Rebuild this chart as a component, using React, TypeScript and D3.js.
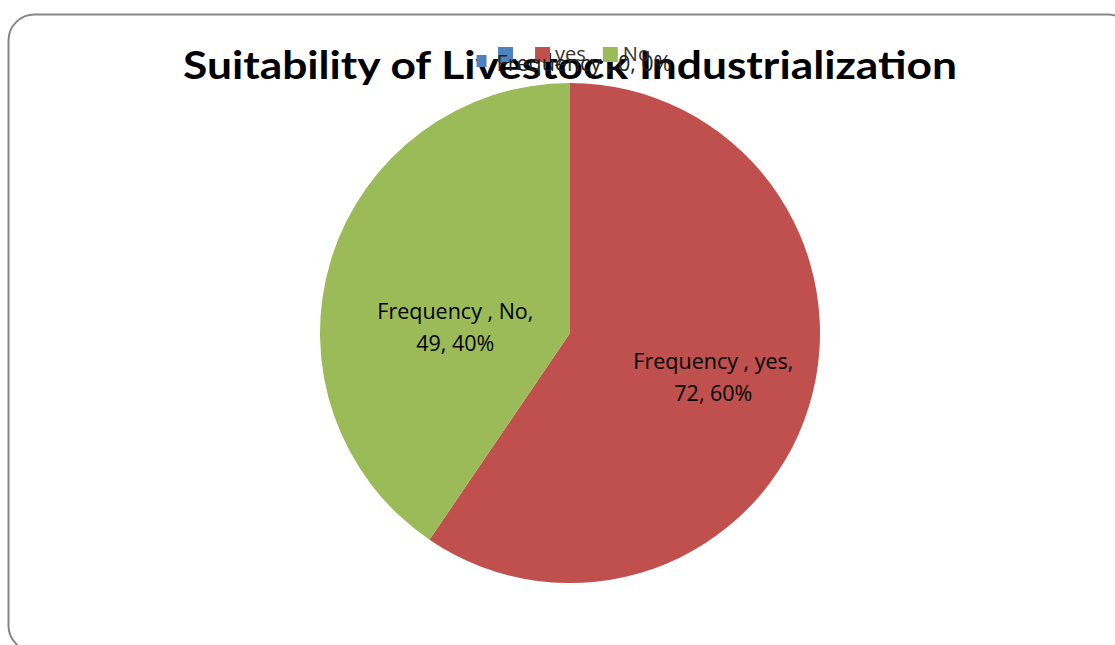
import { useEffect, useRef } from "react";
import * as d3 from "d3";

const title = "Suitability of Livestock Industrialization";
const seriesName = "Frequency ";
const categories = ["Frequency", "yes", "No"];
const legendLabels = ["", "yes", "No"];
const values = [0, 72, 49];
const percentLabels = ["0%", "60%", "40%"];
const colors = ["#4F81BD", "#C0504D", "#9BBB59"];

const W = 1115;
const H = 645;

type Slice = { cat: string; value: number; pct: string; color: string };

const PieChart = () => {
  const svgRef = useRef<SVGSVGElement>(null);

  useEffect(() => {
    if (!svgRef.current) return;
    const svg = d3.select(svgRef.current);
    svg.selectAll("*").remove();

    const titleFont = "Lato, 'Open Sans', sans-serif";
    const font = "'Open Sans', Lato, sans-serif";
    const cx = 570;
    const cy = 333;
    const r = 250;

    // chart frame
    svg
      .append("rect")
      .attr("x", 8.5)
      .attr("y", 14.5)
      .attr("width", 1125)
      .attr("height", 637)
      .attr("rx", 26)
      .attr("fill", "#fff")
      .attr("stroke", "#868686")
      .attr("stroke-width", 2);

    const data: Slice[] = categories.map((c, i) => ({
      cat: c,
      value: values[i],
      pct: percentLabels[i],
      color: colors[i],
    }));

    const pie = d3
      .pie<Slice>()
      .sort(null)
      .value((d) => d.value);
    const arcs = pie(data);
    const arc = d3.arc<d3.PieArcDatum<Slice>>().innerRadius(0).outerRadius(r);
    const labelArc = d3
      .arc<d3.PieArcDatum<Slice>>()
      .innerRadius(r * 0.6)
      .outerRadius(r * 0.6);

    const g = svg.append("g").attr("transform", `translate(${cx},${cy})`);
    g.selectAll("path")
      .data(arcs.filter((a) => a.data.value > 0))
      .join("path")
      .attr("d", arc)
      .attr("fill", (d) => d.data.color);

    // inside data labels (best-fit: labels in the upper-left get pulled in)
    arcs
      .filter((a) => a.data.value > 0)
      .forEach((a) => {
        let [lx, ly] = labelArc.centroid(a);
        if (lx < 0 && ly < 0) {
          lx *= 0.8;
          ly = -6;
        }
        const t = g
          .append("text")
          .attr("text-anchor", "middle")
          .attr("font-family", font)
          .attr("font-size", 21.5)
          .attr("fill", "#000");
        t.append("tspan")
          .attr("x", lx)
          .attr("y", ly - 8)
          .text(`${seriesName}, ${a.data.cat},`);
        t.append("tspan")
          .attr("x", lx)
          .attr("y", ly + 24)
          .text(`${a.data.value}, ${a.data.pct}`);
      });

    // title
    svg
      .append("text")
      .attr("x", 570)
      .attr("y", 79)
      .attr("text-anchor", "middle")
      .attr("font-family", titleFont)
      .attr("font-weight", 700)
      .attr("font-size", 39)
      .attr("textLength", 774)
      .attr("lengthAdjust", "spacingAndGlyphs")
      .attr("fill", "#000")
      .text(title);

    // legend
    const legend = svg.append("g");
    let lx = 0;
    legendLabels.forEach((lab, i) => {
      const item = legend.append("g").attr("transform", `translate(${lx},0)`);
      item
        .append("rect")
        .attr("width", 15)
        .attr("height", 15)
        .attr("fill", colors[i]);
      const txt = item
        .append("text")
        .attr("x", 20)
        .attr("y", 14)
        .attr("font-family", font)
        .attr("font-size", 20)
        .attr("fill", "#333")
        .text(lab);
      const tw = (txt.node() as SVGTextElement).getComputedTextLength();
      lx += 20 + tw + 17;
    });
    legend.attr("transform", `translate(${cx + 4 - (lx - 17) / 2},47)`);

    // label for the zero slice, with its legend key
    arcs
      .filter((a) => a.data.value === 0)
      .forEach((a) => {
        const outer = d3
          .arc<d3.PieArcDatum<Slice>>()
          .innerRadius(r + 12)
          .outerRadius(r + 12);
        const [ox, oy] = outer.centroid(a);
        const lg = svg.append("g");
        lg.append("rect")
          .attr("x", 0)
          .attr("y", -16)
          .attr("width", 10)
          .attr("height", 12)
          .attr("fill", a.data.color);
        const t = lg
          .append("text")
          .attr("x", 20)
          .attr("y", 0)
          .attr("font-family", font)
          .attr("font-size", 21.5)
          .attr("fill", "#222")
          .text(`${seriesName}, ${a.data.value}, ${a.data.pct}`);
        const tw = (t.node() as SVGTextElement).getComputedTextLength();
        lg.attr("transform", `translate(${cx + ox + 4 - (20 + tw) / 2},${cy + oy})`);
      });
  }, []);

  return (
    <svg
      ref={svgRef}
      width={W}
      height={H}
      style={{ position: "absolute", left: 0, top: 0, display: "block" }}
    />
  );
};

export default function App() {
  return <PieChart />;
}
